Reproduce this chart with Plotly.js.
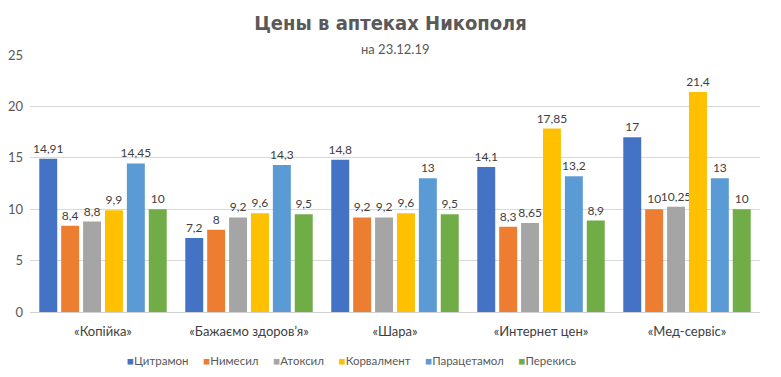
<!DOCTYPE html>
<html>
<head>
<meta charset="utf-8">
<script src="https://cdn.plot.ly/plotly-3.0.1.min.js"></script>
<style>html,body{margin:0;padding:0;background:#fff;}#chart{width:781px;height:377px;}</style>
</head>
<body>
<div id="chart"></div>
<script>
const categories = ["«Копійка»", "«Бажаємо здоров’я»", "«Шара»", "«Интернет цен»", "«Мед-сервіс»"];
const seriesNames = ["Цитрамон", "Нимесил", "Атоксил", "Корвалмент", "Парацетамол", "Перекись"];
const citramon = [14.91, 7.2, 14.8, 14.1, 17];
const nimesil = [8.4, 8, 9.2, 8.3, 10];
const atoksil = [8.8, 9.2, 9.2, 8.65, 10.25];
const korvalment = [9.9, 9.6, 9.6, 17.85, 21.4];
const paracetamol = [14.45, 14.3, 13, 13.2, 13];
const perekis = [10, 9.5, 9.5, 8.9, 10];
const yTicks = [0, 5, 10, 15, 20, 25];

const colors = ["#4472C4", "#ED7D31", "#A5A5A5", "#FFC000", "#5B9BD5", "#70AD47"];
const allSeries = [citramon, nimesil, atoksil, korvalment, paracetamol, perekis];
const fmt = v => String(v).replace('.', ',');
const FONT = 'Lato, "Noto Sans", sans-serif';

const traces = allSeries.map((vals, i) => ({
  type: 'bar',
  name: seriesNames[i],
  x: categories,
  y: vals,
  text: vals.map(fmt),
  textposition: 'outside',
  constraintext: 'none',
  cliponaxis: false,
  textfont: {family: FONT, size: 12, color: '#404040'},
  marker: {color: colors[i]},
  hoverinfo: 'none'
}));

const legendText = seriesNames.map((n, i) =>
  '<span style="color:' + colors[i] + '">■</span>' + n
).join('&nbsp;&nbsp;&nbsp;&nbsp;&nbsp;');

const layout = {
  width: 781, height: 377,
  margin: {l: 30, r: 21, t: 55, b: 65},
  paper_bgcolor: '#fff', plot_bgcolor: '#fff',
  barmode: 'group',
  bargap: 0.1,
  bargroupgap: 0.18,
  showlegend: false,
  title: {
    text: '<b>Цены в аптеках Никополя</b>',
    font: {family: '"DejaVu Sans Condensed", "Liberation Sans Narrow", sans-serif', size: 20, color: '#595959'},
    x: 0.5, xanchor: 'center', y: 0.94, yanchor: 'middle'
  },
  annotations: [{
    text: 'на 23.12.19', xref: 'paper', yref: 'paper', x: 0.5, xanchor: 'center',
    y: 1.025, yanchor: 'middle', showarrow: false,
    font: {family: FONT, size: 13, color: '#595959'}
  }, {
    text: legendText, xref: 'paper', yref: 'paper', x: 0.441, xanchor: 'center',
    y: -0.187, yanchor: 'middle', showarrow: false,
    font: {family: FONT, size: 11.5, color: '#595959'}
  }],
  xaxis: {
    showline: true, linecolor: '#d0d0d0', linewidth: 1,
    ticks: '', ticklabelstandoff: 7,
    tickfont: {family: FONT, size: 13, color: '#404040'},
    fixedrange: true
  },
  yaxis: {
    range: [0, 25], tickvals: yTicks, ticktext: yTicks.map(String),
    showgrid: true, gridcolor: '#d9d9d9', zeroline: false, showline: false,
    tickfont: {family: FONT, size: 13, color: '#595959'},
    ticklabelstandoff: 6,
    fixedrange: true
  }
};

Plotly.newPlot('chart', traces, layout, {displayModeBar: false, staticPlot: true});
</script>
</body>
</html>
